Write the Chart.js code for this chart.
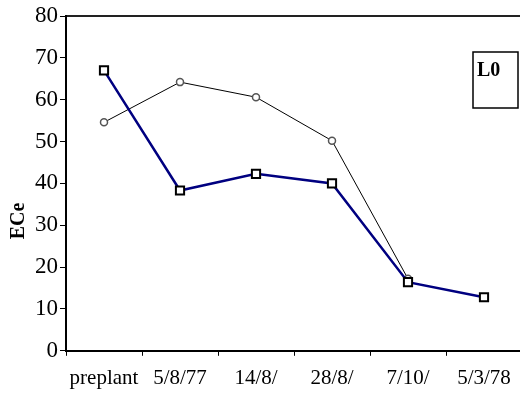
<!DOCTYPE html>
<html>
<head>
<meta charset="utf-8">
<script src="https://cdn.jsdelivr.net/npm/chart.js@4/dist/chart.umd.min.js"></script>
<style>
  body { margin: 0; overflow: hidden; background: #fff; }
  #wrap { width: 530px; height: 401px; }
</style>
</head>
<body>
<div id="wrap"><canvas id="chart" width="530" height="401"></canvas></div>
<script>
const dates = ['preplant', '5/8/77', '14/8/', '28/8/', '7/10/', '5/3/78'];
const squareValues = [67, 38.3, 42.3, 40, 16.4, 12.8];
const circleValues = [54.6, 64.2, 60.6, 50.2, 17.2, null];
const yTicks = [0, 10, 20, 30, 40, 50, 60, 70, 80];
const yTitle = 'ECe';
const boxLabel = 'L0';

const serif = '"Liberation Serif", "Times New Roman", serif';

// axis title (sits lower than centre in the original) and the framed label
const extras = {
  id: 'extras',
  afterDraw(chart) {
    const ctx = chart.ctx;
    ctx.save();
    ctx.fillStyle = '#000';
    ctx.font = 'bold 20px ' + serif;
    ctx.textAlign = 'center';
    ctx.textBaseline = 'middle';
    ctx.translate(19, 221);
    ctx.rotate(-Math.PI / 2);
    ctx.fillText(yTitle, 0, 0);
    ctx.restore();

    ctx.save();
    ctx.fillStyle = '#fff';
    ctx.fillRect(473, 52, 45, 56);
    ctx.strokeStyle = '#000';
    ctx.lineWidth = 1.5;
    ctx.strokeRect(473, 52, 45, 56);
    ctx.fillStyle = '#000';
    ctx.font = 'bold 20px ' + serif;
    ctx.textBaseline = 'top';
    ctx.fillText(boxLabel, 477, 61);
    ctx.restore();
  }
};

new Chart(document.getElementById('chart'), {
  type: 'line',
  data: {
    labels: dates,
    datasets: [
      {
        data: squareValues,
        borderColor: '#000080',
        borderWidth: 2.5,
        pointStyle: 'rect',
        pointRadius: 5.8,
        pointBorderColor: '#000',
        pointBorderWidth: 2,
        pointBackgroundColor: '#fff',
        tension: 0
      },
      {
        data: circleValues,
        borderColor: '#000',
        borderWidth: 1,
        pointStyle: 'circle',
        pointRadius: 3.5,
        pointBorderColor: '#555',
        pointBorderWidth: 1.5,
        pointBackgroundColor: '#fff',
        tension: 0
      }
    ]
  },
  options: {
    responsive: false,
    animation: false,
    layout: { padding: { left: 33, top: 16, right: 8, bottom: 0 } },
    plugins: {
      legend: { display: false },
      tooltip: { enabled: false }
    },
    scales: {
      x: {
        offset: true,
        grid: { display: true, drawOnChartArea: false, offset: true, tickLength: 5, color: '#000', tickWidth: 1 },
        border: { color: '#000', width: 2 },
        ticks: { color: '#000', padding: 10, maxRotation: 0, font: { family: serif, size: 21 } }
      },
      x2: {
        position: 'top',
        grid: { display: false, drawTicks: false },
        border: { display: true, color: '#222', width: 2 },
        ticks: { display: false }
      },
      y: {
        min: 0,
        max: 80,
        afterBuildTicks(axis) { axis.ticks = yTicks.map(v => ({ value: v })); },
        grid: { display: true, drawOnChartArea: false, tickLength: 6, color: '#000', tickWidth: 1 },
        border: { color: '#000', width: 2 },
        ticks: { color: '#000', padding: 2, font: { family: serif, size: 23 } }
      }
    }
  },
  plugins: [extras]
});
</script>
</body>
</html>
